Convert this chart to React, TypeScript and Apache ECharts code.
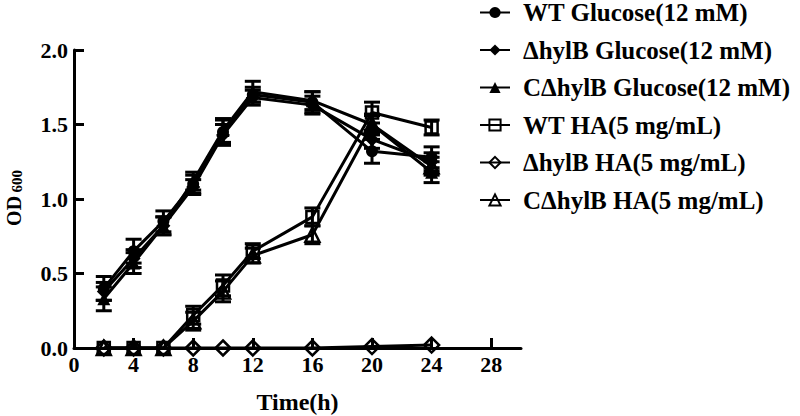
import React, { useEffect, useRef } from "react";
import * as echarts from "echarts";

const times = [2, 4, 6, 8, 10, 12, 16, 20, 24];
const xTicks = [0, 4, 8, 12, 16, 20, 24, 28];

const seriesNames = [
  "WT Glucose(12 mM)",
  "ΔhylB Glucose(12 mM)",
  "CΔhylB Glucose(12 mM)",
  "WT HA(5 mg/mL)",
  "ΔhylB HA(5 mg/mL)",
  "CΔhylB HA(5 mg/mL)",
];

const wtGlu = [0.4, 0.65, 0.85, 1.1, 1.45, 1.7, 1.65, 1.32, 1.28];
const wtGluErr = [0.08, 0.08, 0.07, 0.06, 0.08, 0.05, 0.07, 0.08, 0.07];
const dGlu = [0.38, 0.6, 0.82, 1.08, 1.43, 1.68, 1.63, 1.4, 1.25];
const dGluErr = [0.06, 0.06, 0.06, 0.05, 0.07, 0.05, 0.06, 0.06, 0.06];
const cGlu = [0.33, 0.57, 0.82, 1.12, 1.46, 1.72, 1.66, 1.5, 1.18];
const cGluErr = [0.08, 0.07, 0.06, 0.06, 0.08, 0.07, 0.06, 0.07, 0.07];
const wtHA = [0, 0, 0, 0.22, 0.42, 0.65, 0.88, 1.58, 1.48];
const wtHAErr = [0, 0, 0, 0.06, 0.07, 0.05, 0.06, 0.07, 0.05];
const dHA = [0, 0, 0, 0, 0, 0, 0, 0.01, 0.02];
const dHAErr = [0, 0, 0, 0, 0, 0, 0, 0, 0];
const cHA = [0, 0, 0, 0.18, 0.38, 0.62, 0.76, 1.5, 1.22];
const cHAErr = [0, 0, 0, 0.06, 0.07, 0.05, 0.06, 0.06, 0.06];

const values = [wtGlu, dGlu, cGlu, wtHA, dHA, cHA];
const errors = [wtGluErr, dGluErr, cGluErr, wtHAErr, dHAErr, cHAErr];
const symbols = ["circle", "diamond", "triangle", "rect", "diamond", "triangle"];
const filled = [true, true, true, false, false, false];
const sizes = [12, 14, 13, 12, 15, 14];

const FONT = "'Liberation Serif', 'Times New Roman', serif";

export default function App() {
  const ref = useRef<HTMLDivElement>(null);
  useEffect(() => {
    if (!ref.current) return;
    const chart = echarts.init(ref.current, undefined, { renderer: "svg" });

    const lineSeries = seriesNames.map((name, k) => ({
      name,
      type: "line",
      data: times.map((t, i) => [t, values[k][i]]),
      symbol: symbols[k],
      symbolSize: sizes[k],
      showSymbol: true,
      lineStyle: { color: "#000", width: 3 },
      itemStyle: filled[k]
        ? { color: "#000", borderColor: "#000", borderWidth: 0 }
        : { color: "rgba(0,0,0,0)", borderColor: "#000", borderWidth: 2.5 },
      z: 3,
    }));

    const errSeries = seriesNames.map((name, k) => ({
      name: name + " err",
      type: "custom",
      data: times
        .map((t, i) => [t, values[k][i] - errors[k][i], values[k][i] + errors[k][i], errors[k][i]])
        .filter((d) => d[3] > 0),
      renderItem: (params: any, api: any) => {
        const x = api.value(0);
        const lo = api.coord([x, api.value(1)]);
        const hi = api.coord([x, api.value(2)]);
        const w = 8;
        const st = { stroke: "#000", lineWidth: 3 };
        return {
          type: "group",
          children: [
            { type: "line", shape: { x1: lo[0], y1: lo[1], x2: hi[0], y2: hi[1] }, style: st },
            { type: "line", shape: { x1: lo[0] - w, y1: lo[1], x2: lo[0] + w, y2: lo[1] }, style: st },
            { type: "line", shape: { x1: hi[0] - w, y1: hi[1], x2: hi[0] + w, y2: hi[1] }, style: st },
          ],
        };
      },
      z: 2,
    }));

    chart.setOption({
      animation: false,
      backgroundColor: "#fff",
      grid: { left: 74, right: 279, top: 50, bottom: 68, containLabel: false, outerBoundsMode: "none" },
      legend: {
        data: seriesNames,
        orient: "vertical",
        left: 479,
        top: 0,
        padding: 0,
        itemGap: 12.5,
        itemWidth: 30,
        itemHeight: 14,
        textStyle: {
          fontFamily: FONT,
          fontWeight: "bold",
          fontSize: 25,
          color: "#000",
          lineHeight: 24,
          padding: [0, 0, 0, 8],
        },
      },
      xAxis: {
        type: "value",
        min: 0,
        max: 30,
        interval: 4,
        name: "Time(h)",
        nameLocation: "middle",
        nameGap: 42,
        nameTextStyle: { fontFamily: FONT, fontWeight: "bold", fontSize: 24, color: "#000" },
        axisLine: { show: true, lineStyle: { color: "#000", width: 3 } },
        axisTick: { show: true, inside: true, length: 10, lineStyle: { color: "#000", width: 3 }, customValues: xTicks },
        axisLabel: {
          fontFamily: FONT,
          fontWeight: "bold",
          fontSize: 22,
          color: "#000",
          margin: 5,
          customValues: xTicks,
        },
        splitLine: { show: false },
      },
      yAxis: {
        type: "value",
        min: 0,
        max: 2,
        interval: 0.5,
        axisLine: { show: true, lineStyle: { color: "#000", width: 3 } },
        axisTick: { show: true, inside: true, length: 10, lineStyle: { color: "#000", width: 3 } },
        axisLabel: {
          fontFamily: FONT,
          fontWeight: "bold",
          fontSize: 22,
          color: "#000",
          margin: 6,
          formatter: (v: number) => v.toFixed(1),
        },
        splitLine: { show: false },
      },
      graphic: [
        {
          type: "text",
          x: 14,
          y: 198,
          rotation: Math.PI / 2,
          style: {
            text: "{a|OD} {b|600}",
            align: "center",
            verticalAlign: "middle",
            fill: "#000",
            rich: {
              a: { fontFamily: FONT, fontWeight: "bold", fontSize: 20, fill: "#000" },
              b: { fontFamily: FONT, fontWeight: "bold", fontSize: 15, fill: "#000", padding: [6, 0, 0, 0] },
            },
          },
        },
      ],
      series: [...errSeries, ...lineSeries],
    });
    return () => chart.dispose();
  }, []);
  return <div ref={ref} style={{ width: 800, height: 416, position: "absolute", left: 0, top: 0 }} />;
}
